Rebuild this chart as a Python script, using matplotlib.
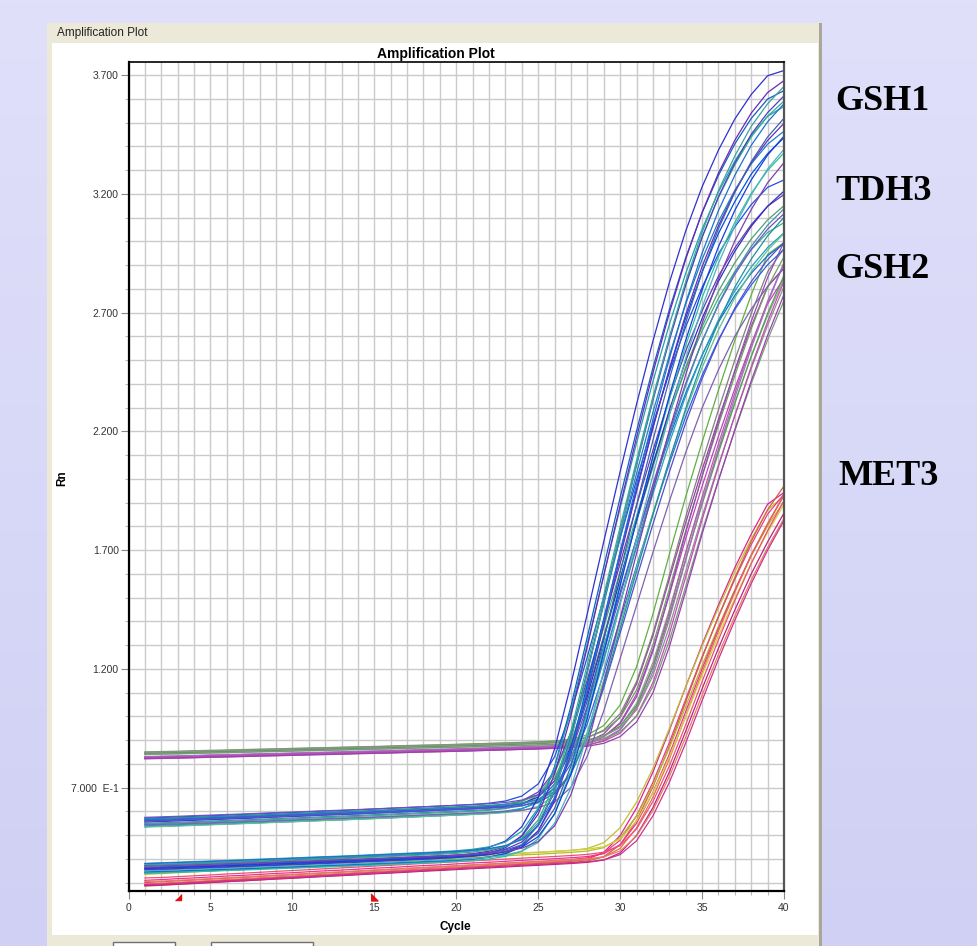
import numpy as np
import matplotlib
matplotlib.use('Agg')
import matplotlib.pyplot as plt
from matplotlib.patches import Rectangle

W, H = 977, 946

cycles = np.arange(1, 41)

# mean Rn curve of each assay, read per cycle
gsh1_rn = [0.360, 0.363, 0.365, 0.368, 0.370, 0.373, 0.375, 0.378, 0.381, 0.383,
           0.386, 0.389, 0.391, 0.394, 0.397, 0.400, 0.403, 0.406, 0.409, 0.413,
           0.418, 0.426, 0.440, 0.470, 0.540, 0.680, 0.900, 1.180, 1.470, 1.760,
           2.040, 2.310, 2.560, 2.790, 2.990, 3.160, 3.300, 3.420, 3.510, 3.580]
tdh3_rn = [0.555, 0.558, 0.560, 0.563, 0.565, 0.568, 0.570, 0.573, 0.576, 0.578,
           0.581, 0.584, 0.586, 0.589, 0.592, 0.595, 0.598, 0.601, 0.604, 0.607,
           0.610, 0.614, 0.620, 0.632, 0.660, 0.730, 0.880, 1.090, 1.330, 1.570,
           1.810, 2.040, 2.260, 2.460, 2.630, 2.780, 2.900, 3.000, 3.080, 3.140]
gsh2_rn = [0.835, 0.837, 0.838, 0.840, 0.842, 0.843, 0.845, 0.847, 0.848, 0.850,
           0.852, 0.853, 0.855, 0.857, 0.858, 0.860, 0.862, 0.864, 0.865, 0.867,
           0.869, 0.871, 0.873, 0.875, 0.877, 0.880, 0.884, 0.893, 0.914, 0.960,
           1.060, 1.240, 1.470, 1.720, 1.950, 2.170, 2.380, 2.580, 2.760, 2.920]
met3_rn = [0.300, 0.303, 0.307, 0.310, 0.314, 0.318, 0.321, 0.325, 0.329, 0.332,
           0.336, 0.340, 0.343, 0.347, 0.351, 0.354, 0.358, 0.362, 0.365, 0.369,
           0.373, 0.376, 0.380, 0.384, 0.387, 0.391, 0.395, 0.400, 0.412, 0.450,
           0.540, 0.670, 0.830, 1.010, 1.190, 1.360, 1.520, 1.670, 1.800, 1.920]

# per well: cycle shift, amplitude ratio, baseline offset
gsh1_shift = [-0.7, -0.5, -0.4, -0.3, -0.2, -0.1, 0.0, 0.0, 0.1, 0.2, 0.3, 0.4, 0.5, 0.6, 0.8, 1.0]
gsh1_gain = [1.04, 1.02, 0.99, 1.03, 0.97, 1.00, 1.01, 0.96, 1.02, 0.98, 1.00, 0.95, 0.99, 0.97, 0.96, 0.94]
gsh1_off = [0.010, -0.010, 0.020, 0.000, -0.020, 0.010, 0.000, -0.015, 0.015, -0.005, 0.020, -0.020, 0.005, 0.000, -0.010, 0.010]
gsh1_col = ['#3030d0', '#1060c0', '#20a0b0', '#6a28b8', '#2080c0', '#30b090', '#5040c0', '#0050e0',
            '#40a0a0', '#6030c0', '#2070d0', '#30c0a0', '#4060b0', '#1040e0', '#50b0c0', '#7a40b0']

tdh3_shift = [-0.5, -0.3, -0.2, -0.1, 0.0, 0.1, 0.2, 0.3, 0.4, 0.5, 0.6, 0.8, 0.9, 1.1]
tdh3_gain = [1.04, 0.98, 1.02, 0.95, 1.00, 1.03, 0.97, 0.99, 1.01, 0.94, 0.98, 0.96, 1.00, 0.93]
tdh3_off = [0.015, -0.010, 0.005, -0.020, 0.010, 0.000, -0.015, 0.020, -0.005, 0.010, -0.020, 0.005, 0.015, -0.010]
tdh3_col = ['#2050e0', '#40b080', '#6040b0', '#1070d0', '#50a070', '#3030c0', '#20a0c0',
            '#7050c0', '#4090b0', '#3060e0', '#60c090', '#5050d0', '#2090a0', '#8060b0']

gsh2_shift = [-0.7, -0.5, -0.4, -0.3, -0.2, -0.1, 0.0, 0.1, 0.2, 0.3, 0.4, 0.5, 0.6, 0.7]
gsh2_gain = [1.03, 0.99, 1.02, 0.97, 1.00, 1.04, 0.96, 1.01, 0.98, 1.02, 0.97, 1.00, 0.96, 0.99]
gsh2_off = [0.012, -0.010, 0.008, -0.012, 0.015, -0.006, 0.004, -0.014, 0.010, -0.004, 0.014, -0.008, 0.006, -0.012]
gsh2_col = ['#60b040', '#a040a0', '#808080', '#c040c0', '#70a060', '#9050b0', '#a0a0a0',
            '#b060a0', '#50a050', '#a070c0', '#909090', '#c050b0', '#7a9a7a', '#9a40b0']

met3_shift = [-0.6, -0.5, -0.3, -0.2, -0.1, 0.0, 0.1, 0.2, 0.3, 0.4, 0.5, 0.6]
met3_gain = [1.02, 0.98, 1.01, 1.04, 0.97, 1.00, 1.02, 0.97, 0.99, 1.01, 0.98, 0.99]
met3_off = [-0.010, 0.040, 0.000, -0.015, 0.035, 0.010, -0.005, 0.045, -0.012, 0.020, 0.005, -0.008]
met3_col = ['#e02090', '#c0c030', '#e04080', '#d06040', '#b8b828', '#f03090',
            '#e07050', '#d0d040', '#c02080', '#f05070', '#e08060', '#d03090']

gene_labels = ['GSH1', 'TDH3', 'GSH2', 'MET3']
gene_label_xy = [(835, 101), (835, 192), (835, 270), (838, 476)]


def fx(px):
    return px / W


def fy(py):
    return 1 - py / H


fig = plt.figure(figsize=(W / 100, H / 100), dpi=100)

# lavender slide background
bg = fig.add_axes([0, 0, 1, 1], zorder=-5)
grad = np.linspace(0, 1, 256).reshape(-1, 1)
top = np.array([224, 224, 251]) / 255
bot = np.array([208, 208, 244]) / 255
img = top + (bot - top) * grad[:, :, None]
bg.imshow(img, aspect='auto', extent=[0, 1, 0, 1])
bg.set_axis_off()

# software window panel
fig.add_artist(Rectangle((fx(47), fy(946)), fx(775), 923 / H, transform=fig.transFigure,
                         facecolor='#ece9d8', edgecolor='none', zorder=-4))
fig.add_artist(Rectangle((fx(819), fy(946)), fx(3), 923 / H, transform=fig.transFigure,
                         facecolor='#a8a898', edgecolor='none', zorder=-3))
fig.add_artist(Rectangle((fx(52), fy(935)), fx(766), 892 / H, transform=fig.transFigure,
                         facecolor='white', edgecolor='none', zorder=-3))
fig.add_artist(Rectangle((fx(113), fy(952)), fx(62), 10 / H, transform=fig.transFigure,
                         facecolor='white', edgecolor='#707070', lw=1, zorder=-2))
fig.add_artist(Rectangle((fx(211), fy(952)), fx(102), 10 / H, transform=fig.transFigure,
                         facecolor='white', edgecolor='#707070', lw=1, zorder=-2))
fig.text(fx(57), fy(33), 'Amplification Plot', fontsize=8.5, family='Liberation Sans',
         color='#222222', va='center', ha='left')

ax = fig.add_axes([fx(128.5), fy(891), fx(784 - 128.5), (891 - 61.7) / H], zorder=1)
ax.set_facecolor('white')
ax.set_xlim(0, 40)
ax.set_ylim(0.265, 3.756)

ax.set_xticks(np.arange(0, 41, 5))
ax.set_xticks(np.arange(0, 41, 1), minor=True)
ax.set_yticks([0.7, 1.2, 1.7, 2.2, 2.7, 3.2, 3.7])
ax.set_yticklabels(['7.000  E-1', '1.200', '1.700', '2.200', '2.700', '3.200', '3.700'])
ax.set_yticks(np.arange(0.3, 3.75, 0.1), minor=True)
ax.grid(True, which='both', color='#cacaca', lw=1.0)
ax.set_axisbelow(True)
ax.tick_params(which='major', length=5.5, width=0.8, color='#888888', labelsize=7.5,
               labelcolor='#333333', pad=1.5)
ax.tick_params(which='minor', length=3, width=0.8, color='#bbbbbb')
ax.tick_params(axis='x', which='major', pad=3)
for lab in ax.get_xticklabels() + ax.get_yticklabels():
    lab.set_family('Liberation Sans')
ax.spines['left'].set_linewidth(1.6)
ax.spines['bottom'].set_linewidth(1.6)
ax.spines['top'].set_linewidth(1.2)
ax.spines['right'].set_linewidth(1.6)
ax.spines['right'].set_color('#555555')

groups = [
    (met3_rn, met3_shift, met3_gain, met3_off, met3_col),
    (gsh2_rn, gsh2_shift, gsh2_gain, gsh2_off, gsh2_col),
    (tdh3_rn, tdh3_shift, tdh3_gain, tdh3_off, tdh3_col),
    (gsh1_rn, gsh1_shift, gsh1_gain, gsh1_off, gsh1_col),
]
for rn, shifts, gains, offs, cols in groups:
    rn = np.array(rn)
    for s, g, o, c in zip(shifts, gains, offs, cols):
        y = rn[0] + o + g * (np.interp(cycles - s, cycles, rn) - rn[0])
        ax.plot(cycles, y, color=c, lw=0.9)

# baseline start / end markers below the axis
xt = ax.get_xaxis_transform()
ax.plot([3], [-0.0075], marker=[(-1, -1), (1, -1), (1, 1)], color='#e01010', ms=5,
        lw=0, transform=xt, clip_on=False, zorder=5)
ax.plot([15], [-0.0075], marker=[(-1, -1), (1, -1), (-1, 1)], color='#e01010', ms=5,
        lw=0, transform=xt, clip_on=False, zorder=5)

fig.text(fx(436), fy(54), 'Amplification Plot', fontsize=10, fontweight='bold',
         family='Liberation Sans', ha='center', va='center')
fig.text(fx(455), fy(927), 'Cycle', fontsize=8.5, fontweight='bold',
         family='Liberation Sans', ha='center', va='center')
fig.text(fx(62), fy(478), 'Rn', fontsize=8.5, fontweight='bold', rotation=90,
         family='Liberation Sans', ha='center', va='center')

for name, (px, py) in zip(gene_labels, gene_label_xy):
    fig.text(fx(px), fy(py), name, fontsize=26, fontweight='bold',
             family='Liberation Serif', ha='left', va='center')

fig.savefig('out.png', dpi=100)
